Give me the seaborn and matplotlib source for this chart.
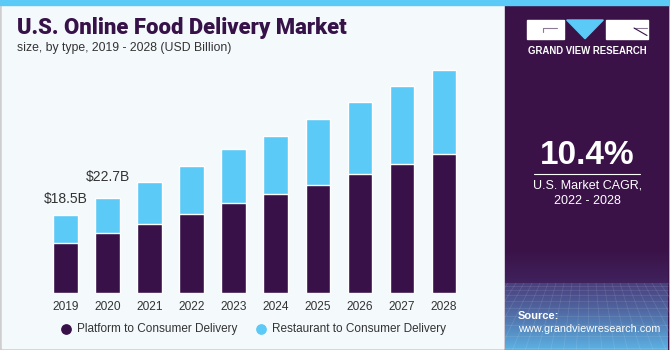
import matplotlib
matplotlib.use("Agg")
import matplotlib.pyplot as plt
import seaborn as sns
import numpy as np
import pandas as pd
from matplotlib.patches import Rectangle, Polygon

years = ["2019", "2020", "2021", "2022", "2023", "2024", "2025", "2026", "2027", "2028"]
platform = [11.8, 14.3, 16.4, 18.8, 21.4, 23.6, 25.8, 28.5, 30.7, 33.3]
restaurant = [6.7, 8.4, 10.2, 11.6, 12.9, 13.9, 15.7, 17.1, 18.8, 20.0]
labels = {"2019": "$18.5B", "2020": "$22.7B"}
series = ["Platform to Consumer Delivery", "Restaurant to Consumer Delivery"]

dark = "#371148"
light = "#5BCAF6"
panel_bg = "#F4F9FC"
text_col = "#333333"

sns.set_style("white")
plt.rcParams["font.family"] = ["Liberation Sans", "DejaVu Sans"]

df = pd.DataFrame({"year": years, "platform": platform, "restaurant": restaurant})
df["total"] = df["platform"] + df["restaurant"]

fig = plt.figure(figsize=(6.7, 3.5), dpi=100)
fig.patch.set_facecolor("white")

# background layer in pixel coords
bg = fig.add_axes([0, 0, 1, 1])
bg.set_xlim(0, 670)
bg.set_ylim(350, 0)
bg.axis("off")
bg.add_patch(Rectangle((0, 0), 670, 350, color="#CFCFCF", zorder=0))
bg.add_patch(Rectangle((1.5, 5), 503.5, 343, color=panel_bg, zorder=1))
bg.add_patch(Rectangle((505, 5), 163, 345, color="#3A1248", zorder=1))
bg.add_patch(Rectangle((0, 0), 670, 5, color=light, zorder=2))

# bottom of right panel: soft fade then bluish grid floor
fade = np.linspace(0, 1, 50).reshape(-1, 1)
c0 = np.array([58, 18, 72]) / 255
c1 = np.array([64, 34, 92]) / 255
bg.imshow(c0 + (c1 - c0) * fade[..., None], extent=(505, 668, 283, 250), aspect="auto", zorder=2)
floor = np.linspace(0, 1, 100).reshape(-1, 1)
f0 = np.array([74, 66, 128]) / 255
f1 = np.array([92, 178, 228]) / 255
bg.imshow(f0 + (f1 - f0) * floor[..., None] ** 1.2, extent=(505, 668, 350, 283), aspect="auto", zorder=2)
for xx in np.arange(500, 680, 8):
    bg.plot([xx, xx + (xx - 586) * 0.6], [283, 350], color="white", alpha=0.12, lw=0.5, zorder=3)
for yy in [286, 290, 295, 301, 308, 316, 325, 336, 348]:
    bg.plot([505, 668], [yy, yy], color="white", alpha=0.12, lw=0.5, zorder=3)
bg.set_xlim(0, 670)
bg.set_ylim(350, 0)

# title
bg.text(17, 28, "U.S. Online Food Delivery Market", fontsize=15.8, fontweight="heavy",
        color="#361249", va="center", ha="left", family=["Roboto", "DejaVu Sans"], zorder=5)
bg.text(17, 48, "size, by type, 2019 - 2028 (USD Billion)", fontsize=8.8, color=text_col,
        va="center", ha="left", zorder=5)

# logo
bg.add_patch(Rectangle((527, 20), 36.5, 18.7, color="white", zorder=5))
bg.plot([543, 557], [28, 28], color="#8A7A95", lw=0.8, zorder=6)
bg.plot([543, 543], [28, 32], color="#8A7A95", lw=0.8, zorder=6)
bg.add_patch(Polygon([[566.7, 20], [603.3, 20], [585, 38.7]], color=light, zorder=5))
bg.add_patch(Rectangle((606, 20), 41.7, 18.7, color="white", zorder=5))
bg.plot([634, 647], [28, 28], color="#8A7A95", lw=0.8, zorder=6)
bg.plot([634, 647], [28, 35.5], color=dark, lw=0.8, zorder=6)
bg.text(587.2, 51, "GRAND VIEW RESEARCH", fontsize=6.9, fontweight="bold",
        color="white", ha="center", va="center", zorder=5)

# CAGR
bg.text(587.5, 156, "10.4%", fontsize=24, fontweight="bold", color="white",
        ha="center", va="center", zorder=5)
bg.plot([534, 640], [173.5, 173.5], color="white", lw=0.8, zorder=5)
bg.text(587.5, 185, "U.S. Market CAGR,", fontsize=9, color="white", ha="center", va="center", zorder=5)
bg.text(587.5, 201, "2022 - 2028", fontsize=9, color="white", ha="center", va="center", zorder=5)
bg.text(518, 316, "Source:", fontsize=8, fontweight="bold", color="white", ha="left", va="center", zorder=5)
bg.text(518, 329.5, "www.grandviewresearch.com", fontsize=7.8, color="white", ha="left", va="center", zorder=5)

# legend
bg.scatter([66], [329], s=45, color=dark, zorder=5)
bg.text(77, 329, series[0], fontsize=8.5, color=text_col, ha="left", va="center", zorder=5)
bg.scatter([261], [329], s=45, color=light, zorder=5)
bg.text(272, 329, series[1], fontsize=8.5, color=text_col, ha="left", va="center", zorder=5)

# main bars
ax = fig.add_axes([44.5 / 670, 1 - 292.7 / 350, 420.3 / 670, 250.8 / 350])
ax.set_facecolor("none")
sns.barplot(data=df, x="year", y="total", color=light, width=0.58, saturation=1, ax=ax)
sns.barplot(data=df, x="year", y="platform", color=dark, width=0.58, saturation=1, ax=ax)
ax.set_xlim(-0.5, 9.5)
ax.set_ylim(0, 60)
ax.set_xlabel("")
ax.set_ylabel("")
ax.set_yticks([])
ax.tick_params(axis="x", length=0, pad=6, labelsize=8.6, labelcolor=text_col)
for s in ax.spines.values():
    s.set_visible(False)

for i, y in enumerate(years):
    if y in labels:
        ax.text(i, df["total"][i] + 2.2 + i * 1.0, labels[y], fontsize=10, color=text_col,
                ha="center", va="bottom")

fig.savefig("out.png", dpi=100)
